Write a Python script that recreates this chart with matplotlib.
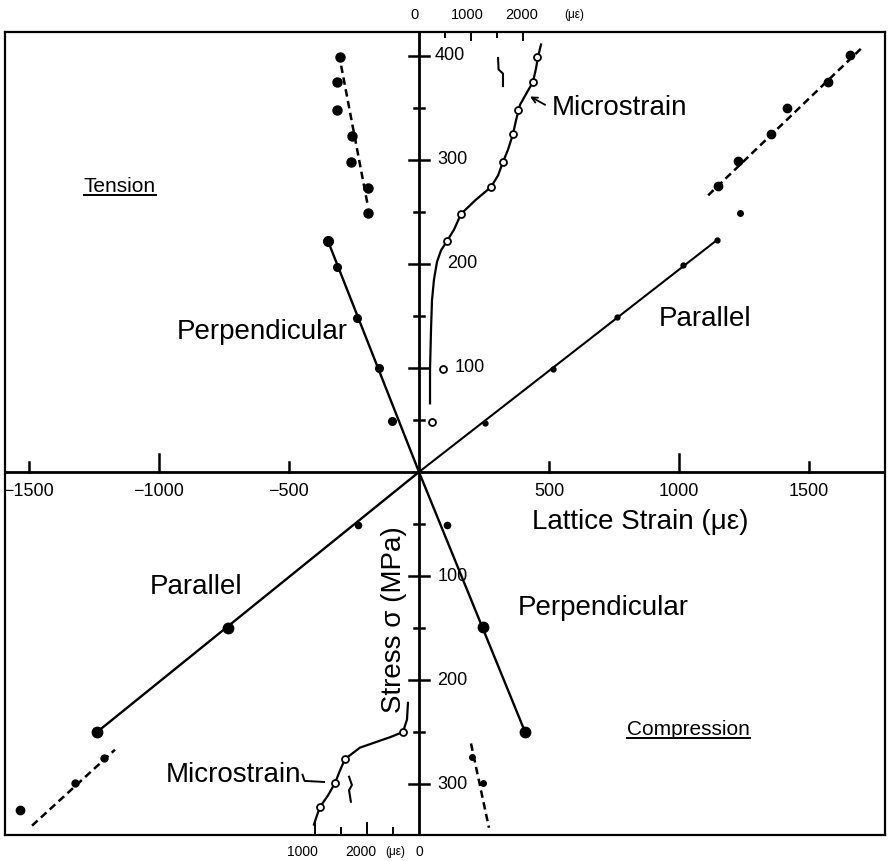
import matplotlib
matplotlib.use("Agg")
import matplotlib.pyplot as plt
from matplotlib.lines import Line2D

plt.rcParams['font.family'] = ['Liberation Sans', 'DejaVu Sans']

# ---- data (lattice strain in microstrain, stress in MPa) ----
# tension quadrant
perp_t_x = [-104, -154, -238, -315, -350]
perp_t_y = [49, 100, 148, 197, 222]
perp_t_end = (-350, 222)

perp_t2_x = [-304, -315, -315, -258, -262, -196, -196]
perp_t2_y = [399, 375, 348, 323, 298, 273, 249]
perp_t2_line = ([-308, -196], [402, 255])

par_t_x = [254, 515, 762, 1015, 1146]
par_t_y = [47, 99, 149, 199, 223]
par_t_end = (1146, 223)
par_t_extra = (1235, 249)

par_t2_x = [1150, 1227, 1354, 1415, 1573, 1658]
par_t2_y = [275, 299, 325, 350, 375, 401]
par_t2_line = ([1112, 1704], [266, 408])

# microstrain (top scale), tension
micro_t_x = [250, 460, 540, 810, 1385, 1615, 1810, 1900, 2190, 2270]
micro_t_y = [48, 99, 222, 248, 274, 298, 325, 348, 375, 399]
micro_t_curve_x = [212, 212, 231, 250, 288, 346, 423, 538, 673, 808, 1077, 1385,
                   1519, 1615, 1712, 1808, 1865, 1942, 2077, 2192, 2250, 2288, 2346]
micro_t_curve_y = [66, 98, 137, 165, 185, 202, 213, 222, 233, 248, 261, 274,
                   285, 298, 310, 325, 338, 353, 365, 375, 388, 399, 411]

# compression quadrant
par_c_x = [-235, -735, -1238]
par_c_y = [-51, -150, -250]
par_c_end = (-1238, -250)
par_c2_x = [-1212, -1323]
par_c2_y = [-275, -299]
par_c2_line = ([-1488, -1169], [-340, -267])
par_c_extra = (-1535, -325)

perp_c_x = [108, 246, 408]
perp_c_y = [-51, -149, -250]
perp_c_end = (408, -250)
perp_c2_x = [204, 246]
perp_c2_y = [-274, -299]
perp_c2_line = ([200, 269], [-261, -342])

# microstrain (bottom scale, increasing to the left), compression
micro_c_x = [308, 1423, 1615, 1904]
micro_c_y = [-250, -276, -299, -322]
micro_c_curve_x = [212, 231, 308, 558, 846, 1135, 1423, 1519, 1615, 1750, 1904, 1981, 2019]
micro_c_curve_y = [-222, -238, -250, -255, -260, -265, -276, -287, -299, -311, -322, -333, -339]

stress_ticks = [-300, -250, -200, -150, -100, -50, 50, 100, 150, 200, 250, 300, 350, 400]
stress_labels = [-300, -200, -100, 100, 200, 300, 400]
strain_ticks = [-1500, -1000, -500, 500, 1000, 1500]
micro_ticks = [500, 1000, 1500, 2000]

MS = 0.2  # microstrain scale relative to lattice strain scale

fig = plt.figure(figsize=(8.91, 8.61), dpi=100)
ax = fig.add_axes([5 / 891, 26 / 861, 880 / 891, 803 / 861])
ax.set_xlim(-1592, 1792)
ax.set_ylim(-349, 423)
ax.set_xticks([])
ax.set_yticks([])
for s in ax.spines.values():
    s.set_linewidth(1.6)

k = 'black'
ax.axhline(0, color=k, lw=2.0)
ax.axvline(0, color=k, lw=2.0)

# stress ticks on the vertical axis
for t in stress_ticks:
    half = 38 if t % 100 == 0 else 19
    ax.plot([-half, half], [t, t], color=k, lw=1.8)
label_x = {400: 62, 300: 69, 200: 108, 100: 138, -100: 73, -200: 69, -300: 69}
for t in stress_labels:
    ax.text(label_x[t], t, str(abs(t)), fontsize=13, ha='left', va='center')

# strain ticks on the horizontal axis
for t in strain_ticks:
    h = 17 if t % 1000 == 0 else 9.5
    ax.plot([t, t], [0, h], color=k, lw=1.8)
    ax.text(t, -19, str(t).replace('-', '\u2212'), fontsize=13, ha='center', va='center')

# microstrain scales on top and bottom frame
for t in micro_ticks:
    ht = 8 if t % 1000 == 0 else 5
    ax.plot([t * MS, t * MS], [423, 423 - ht / 1.04], color=k, lw=1.4)
    hb = 12 if t % 1000 == 0 else 7
    ax.plot([-t * MS, -t * MS], [-349, -349 + hb / 1.04], color=k, lw=1.4)

xt = ax.get_xaxis_transform()
ax.text(-4 / 0.26, 1.021, '0', transform=xt, fontsize=10.5, ha='center', va='center')
ax.text(48 / 0.26, 1.021, '1000', transform=xt, fontsize=10.5, ha='center', va='center')
ax.text(103 / 0.26, 1.021, '2000', transform=xt, fontsize=10.5, ha='center', va='center')
ax.text(155 / 0.26, 1.021, '(\u03bc\u03b5)', transform=xt, fontsize=8.5, ha='center', va='center')
yb = -0.021
ax.text(-117 / 0.26, yb, '1000', transform=xt, fontsize=10, ha='center', va='center')
ax.text(-58 / 0.26, yb, '2000', transform=xt, fontsize=10, ha='center', va='center')
ax.text(-24 / 0.26, yb, '(\u03bc\u03b5)', transform=xt, fontsize=8.5, ha='center', va='center')
ax.text(0, yb, '0', transform=xt, fontsize=10, ha='center', va='center')

# ---- tension ----
ax.plot([0, perp_t_end[0]], [0, perp_t_end[1]], color=k, lw=1.7)
ax.plot(perp_t_x, perp_t_y, 'o', color=k, ms=5.5)
ax.plot(perp_t_x[-1:], perp_t_y[-1:], 'o', color=k, ms=7)
ax.plot(*perp_t2_line, color=k, lw=1.8, ls=(0, (3, 1.8)))
ax.plot(perp_t2_x, perp_t2_y, 'o', color=k, ms=6.5)

ax.plot([0, par_t_end[0]], [0, par_t_end[1]], color=k, lw=1.5)
ax.plot(par_t_x, par_t_y, 'o', color=k, ms=3.5)
ax.plot(*par_t_extra, 'o', color=k, ms=4)
ax.plot(*par_t2_line, color=k, lw=1.8, ls=(0, (3, 1.8)))
ax.plot(par_t2_x, par_t2_y, 'o', color=k, ms=6)

ax.plot([v * MS for v in micro_t_curve_x], micro_t_curve_y, color=k, lw=1.6)
ax.plot([v * MS for v in micro_t_x], micro_t_y, 'o', color=k, mfc='white', ms=5, mew=1.3)

# ---- compression ----
ax.plot([0, par_c_end[0]], [0, par_c_end[1]], color=k, lw=1.7)
ax.plot(par_c_x[:1], par_c_y[:1], 'o', color=k, ms=4.5)
ax.plot(par_c_x[1:], par_c_y[1:], 'o', color=k, ms=7.5)
ax.plot(*par_c2_line, color=k, lw=1.8, ls=(0, (3, 1.8)))
ax.plot(par_c2_x, par_c2_y, 'o', color=k, ms=5)
ax.plot(*par_c_extra, 'o', color=k, ms=6)

ax.plot([0, perp_c_end[0]], [0, perp_c_end[1]], color=k, lw=1.7)
ax.plot(perp_c_x[:1], perp_c_y[:1], 'o', color=k, ms=4.5)
ax.plot(perp_c_x[1:], perp_c_y[1:], 'o', color=k, ms=7.5)
ax.plot(*perp_c2_line, color=k, lw=1.8, ls=(0, (3, 1.8)))
ax.plot(perp_c2_x, perp_c2_y, 'o', color=k, ms=4)

ax.plot([-v * MS for v in micro_c_curve_x], micro_c_curve_y, color=k, lw=1.6)
ax.plot([-v * MS for v in micro_c_x], micro_c_y, 'o', color=k, mfc='white', ms=5, mew=1.3)

# break marks
ax.plot([304, 306, 323, 323], [398, 387, 383, 371], color=k, lw=1.5)
ax.plot([-269, -258, -269, -262], [-293, -301, -306, -317], color=k, lw=1.5)

# ---- labels ----
fs = 20
ax.text(-604, 135, 'Perpendicular', fontsize=fs, ha='center', va='center')
ax.text(1100, 147, 'Parallel', fontsize=fs, ha='center', va='center')
ax.text(512, 350, 'Microstrain', fontsize=fs, ha='left', va='center')
ax.annotate('', xy=(427, 361), xytext=(485, 353),
            arrowprops=dict(arrowstyle='->', color=k, lw=1.3, shrinkA=0, shrinkB=0))
ax.text(-858, -111, 'Parallel', fontsize=fs, ha='center', va='center')
ax.text(707, -131, 'Perpendicular', fontsize=fs, ha='center', va='center')
ax.text(-452, -291, 'Microstrain', fontsize=fs, ha='right', va='center')
ax.plot([-448, -440, -365], [-291, -297, -298], color=k, lw=1.4)
ax.text(850, -48, 'Lattice Strain (\u03bc\u03b5)', fontsize=fs, ha='center', va='center')
ax.text(-96, -142, 'Stress \u03c3 (MPa)', fontsize=fs, ha='center', va='center', rotation=90)

t1 = ax.text(-1150, 274, 'Tension', fontsize=15, ha='center', va='center')
t2 = ax.text(1036, -248, 'Compression', fontsize=15, ha='center', va='center')

fig.canvas.draw()
r = fig.canvas.get_renderer()
for t in (t1, t2):
    bb = t.get_window_extent(r)
    y = (bb.y0 + 1) / fig.bbox.height
    fig.add_artist(Line2D([bb.x0 / fig.bbox.width, bb.x1 / fig.bbox.width], [y, y],
                          color=k, lw=1.4, transform=fig.transFigure))

fig.savefig('out.png', dpi=100)
